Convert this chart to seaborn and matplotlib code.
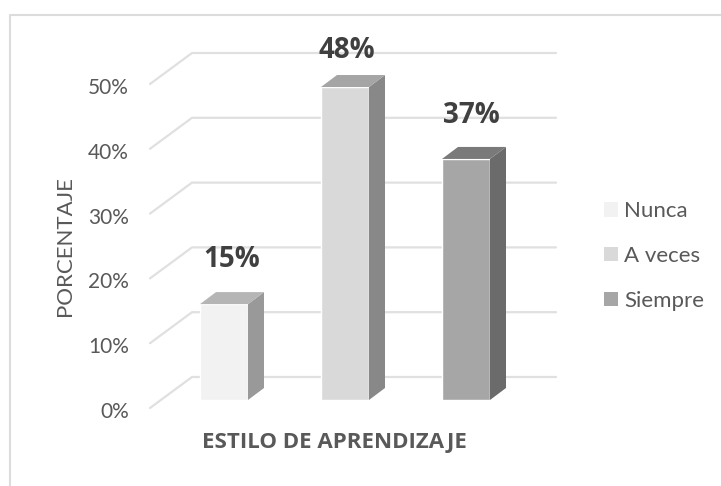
import pandas as pd
import matplotlib
matplotlib.use('Agg')
import matplotlib.pyplot as plt
from matplotlib.patches import Polygon, Rectangle
import seaborn as sns

categorias = ['Nunca', 'A veces', 'Siempre']
porcentajes = [14.8, 48.3, 37.2]
etiquetas = ['15%', '48%', '37%']
ticks = [0, 10, 20, 30, 40, 50]
tick_labels = ['0%', '10%', '20%', '30%', '40%', '50%']

frente = ['#f2f2f2', '#d9d9d9', '#a6a6a6']
lateral = ['#999999', '#888888', '#6b6b6b']
tapa = ['#b5b5b5', '#a5a5a5', '#7a7a7a']
gris_grid = '#e0e0e0'
gris_texto = '#595959'

W, H = 721, 486
sns.set_theme(style='white')
plt.rcParams['font.family'] = ['Lato', 'DejaVu Sans']

fig = plt.figure(figsize=(W / 100, H / 100), dpi=100)
# axes in pixels: left 150, right 556, baseline 400, top (50%) 76
ax = fig.add_axes([150 / W, (H - 400) / H, 406 / W, 324 / H])

df = pd.DataFrame({'estilo': categorias, 'pct': porcentajes})
sns.barplot(data=df, x='estilo', y='pct', hue='estilo', palette=frente,
            dodge=False, width=48 / 121, saturation=1, legend=False, ax=ax, zorder=3)
ax.set_xlim(-74 / 121, 332 / 121)
ax.set_ylim(0, 50)
ax.set_xticks([])
ax.set_yticks([])
ax.set_xlabel('')
ax.set_ylabel('')
sns.despine(ax=ax, left=True, bottom=True)

# back wall grid and floor lines, the 3d part is only a pixel offset
x0, x1 = ax.get_xlim()
for v, lab in zip(ticks, tick_labels):
    p0 = ax.transData.transform((x0, v)) + [0, -8]
    p1 = p0 + [42, 31]
    p2 = ax.transData.transform((x1, v)) + [0, 23]
    ax.plot(*zip(p0, p1, p2), transform=None, color=gris_grid, lw=1.6,
            zorder=1, clip_on=False, solid_joinstyle='miter')
    ax.text(p0[0] - 21, p0[1] - 4, lab, transform=None, ha='right', va='center',
            fontsize=15, color=gris_texto, clip_on=False)

# side and top faces of each bar, labels were hand placed in the original
prof_x, prof_y = 16, 12
ajuste_x = [8, 2, 5]
ajuste_y = [45, 37, 43]
for i, bar in enumerate(ax.patches[:3]):
    (xa, ya), (xb, yb) = ax.transData.transform(
        [(bar.get_x(), 0), (bar.get_x() + bar.get_width(), bar.get_height())])
    ax.add_patch(Polygon([(xb, ya), (xb + prof_x, ya + prof_y), (xb + prof_x, yb + prof_y), (xb, yb)],
                         transform=None, facecolor=lateral[i], edgecolor='none', zorder=3, clip_on=False))
    ax.add_patch(Polygon([(xa, yb), (xb, yb), (xb + prof_x, yb + prof_y), (xa + prof_x, yb + prof_y)],
                         transform=None, facecolor=tapa[i], edgecolor='none', zorder=3, clip_on=False))
    ax.text((xa + xb) / 2 + ajuste_x[i], yb + ajuste_y[i], etiquetas[i], transform=None,
            ha='center', va='center', fontsize=20, fontweight='bold', family='Open Sans',
            color='#404040', zorder=5, clip_on=False)

fig.text(65 / W, 1 - 246 / H, 'PORCENTAJE', rotation=90, ha='center', va='center',
         fontsize=16, color=gris_texto)
fig.text(334 / W, 1 - 442 / H, 'ESTILO DE APRENDIZAJE', ha='center', va='center',
         fontsize=16, fontweight='bold', family='Open Sans', color=gris_texto)

handles = [Rectangle((0, 0), 1, 1, facecolor=c, edgecolor='none') for c in frente]
leg = fig.legend(handles, categorias, loc='center left', bbox_to_anchor=(604 / W, 1 - 256 / H),
                 frameon=False, fontsize=16, handlelength=0.63, handleheight=0.63,
                 handletextpad=0.27, labelspacing=1.12, borderpad=0, borderaxespad=0,
                 labelcolor=gris_texto)

# outer chart frame
fig.add_artist(plt.Line2D([9.5 / W, 9.5 / W, 1], [0, 1 - 15 / H, 1 - 15 / H],
                          color='#dcdcdc', lw=1.5))

fig.savefig('out.png', dpi=100)
